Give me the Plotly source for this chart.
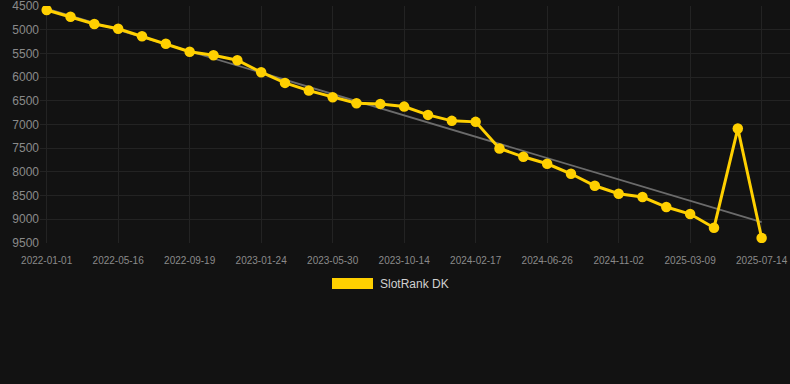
import numpy as np
import plotly.graph_objects as go

dates = [
    "2022-01-01", "2022-02-15", "2022-04-01", "2022-05-16", "2022-06-27", "2022-08-08",
    "2022-09-19", "2022-11-01", "2022-12-13", "2023-01-24", "2023-03-07", "2023-04-18",
    "2023-05-30", "2023-07-15", "2023-08-30", "2023-10-14", "2023-11-25", "2024-01-06",
    "2024-02-17", "2024-03-30", "2024-05-15", "2024-06-26", "2024-08-08", "2024-09-20",
    "2024-11-02", "2024-12-14", "2025-01-25", "2025-03-09", "2025-04-20", "2025-06-01",
    "2025-07-14",
]
rank = [
    4584, 4725, 4879, 4978, 5138, 5294, 5463, 5539, 5644, 5897, 6122, 6285,
    6424, 6550, 6565, 6622, 6797, 6923, 6944, 7507, 7682, 7829, 8040, 8293,
    8461, 8531, 8742, 8890, 9178, 7085, 9395,
]
tick_dates = dates[::3]
y_ticks = [4500, 5000, 5500, 6000, 6500, 7000, 7500, 8000, 8500, 9000, 9500]
series_name = "SlotRank DK"

YELLOW = "#FFD000"
BG = "#121212"
GRID = "#232323"
TICK = "#8a8a8a"

idx = np.arange(len(rank))
slope, intercept = np.polyfit(idx, rank, 1)
trend = slope * idx + intercept

fig = go.Figure()
fig.add_trace(go.Scatter(
    x=dates, y=trend, mode="lines",
    line=dict(color="#6b6b6b", width=1.8),
    showlegend=False, hoverinfo="skip",
))
fig.add_trace(go.Scatter(
    x=dates, y=rank, mode="lines+markers", name=series_name,
    line=dict(color=YELLOW, width=3),
    marker=dict(color=YELLOW, size=10.5),
    showlegend=False,
))

fig.update_layout(
    width=790, height=384,
    paper_bgcolor=BG, plot_bgcolor=BG,
    margin=dict(l=40, r=0, t=6, b=141),
    font=dict(family="Liberation Sans, Arial, sans-serif", color=TICK),
    xaxis=dict(
        type="category",
        categoryorder="array", categoryarray=dates,
        tickvals=tick_dates, ticktext=tick_dates,
        range=[-0.28, 31.19],
        showgrid=True, gridcolor=GRID, gridwidth=1,
        zeroline=False, showline=False, ticks="",
        ticklabelstandoff=10,
        tickfont=dict(size=10, color=TICK),
    ),
    yaxis=dict(
        autorange=False, range=[9501, 4499],
        tickvals=y_ticks,
        showgrid=True, gridcolor=GRID, gridwidth=1,
        zeroline=False, showline=False, ticks="",
        ticklabeloverflow="allow",
        tickfont=dict(size=12, color=TICK),
    ),
    shapes=[dict(
        type="rect", xref="paper", yref="paper",
        x0=(332 - 40) / 750, x1=(373 - 40) / 750,
        y0=(384 - 141 - 289) / 237, y1=(384 - 141 - 278) / 237,
        fillcolor=YELLOW, line=dict(width=0),
    )],
    annotations=[dict(
        xref="paper", yref="paper",
        x=(378 - 40) / 750, y=(384 - 141 - 284) / 237,
        xanchor="left", yanchor="middle", showarrow=False,
        text=series_name, font=dict(size=12, color="#d0d0d0"),
    )],
)

fig.write_html(
    "out.html",
    config={"displayModeBar": False},
    post_script="document.body.style.margin='0';document.body.style.background='#121212';",
)
